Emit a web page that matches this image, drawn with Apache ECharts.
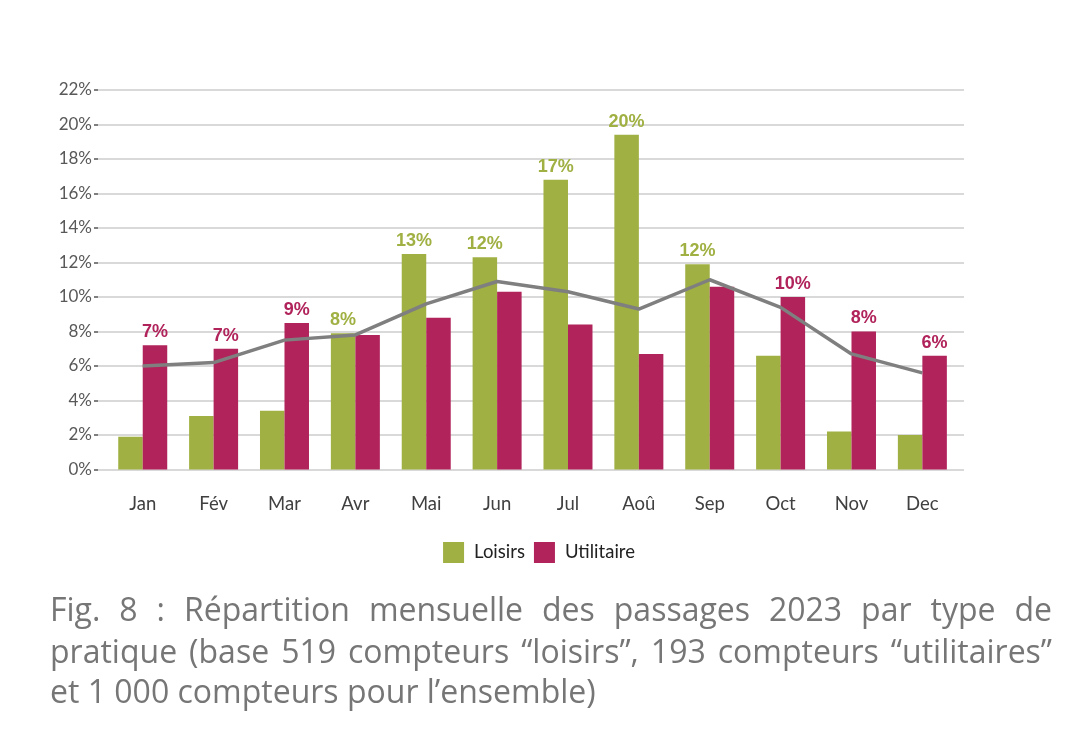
<!DOCTYPE html>
<html>
<head>
<meta charset="utf-8">
<script src="https://cdn.jsdelivr.net/npm/echarts@6/dist/echarts.min.js"></script>
<style>html,body{margin:0;padding:0;background:#fff;}#c{width:1078px;height:729px;}</style>
</head>
<body>
<div id="c"></div>
<script>
const months = ['Jan','Fév','Mar','Avr','Mai','Jun','Jul','Aoû','Sep','Oct','Nov','Dec'];
const loisirs = [1.9, 3.1, 3.4, 7.9, 12.5, 12.3, 16.8, 19.4, 11.9, 6.6, 2.2, 2.0];
const utilitaire = [7.2, 7.0, 8.5, 7.8, 8.8, 10.3, 8.4, 6.7, 10.6, 10.0, 8.0, 6.6];
const ensemble = [6.0, 6.2, 7.5, 7.8, 9.6, 10.9, 10.3, 9.3, 11.0, 9.4, 6.7, 5.6];
const loisirsLabels = ['', '', '', '8%', '13%', '12%', '17%', '20%', '12%', '', '', ''];
const utilitaireLabels = ['7%', '7%', '9%', '', '', '', '', '', '', '10%', '8%', '6%'];
const captionLines = [
  'Fig. 8 : Répartition mensuelle des passages 2023 par type de',
  'pratique (base 519 compteurs “loisirs”, 193 compteurs “utilitaires”',
  'et 1 000 compteurs pour l’ensemble)'
];

const GREEN = '#A0B042', RED = '#B0235B', GRAY = '#7F7F7F';
const chart = echarts.init(document.getElementById('c'), null, {renderer: 'canvas'});

// caption layout (justified lines 1-2)
const capFont = '400 32px "Open Sans"';
const capLeft = 50, capRight = 1052, capMid = [612, 654, 694];
const mctx = document.createElement('canvas').getContext('2d');
mctx.font = capFont;
const graphics = [];
captionLines.forEach((line, li) => {
  const words = line.split(' ');
  const justify = li < captionLines.length - 1;
  const widths = words.map(w => mctx.measureText(w).width);
  const total = widths.reduce((a, b) => a + b, 0);
  const gap = justify ? (capRight - capLeft - total) / (words.length - 1) : mctx.measureText(' ').width;
  let x = capLeft;
  words.forEach((w, i) => {
    graphics.push({type: 'text', x: x, y: capMid[li],
      style: {text: w, font: capFont, fill: '#767676', verticalAlign: 'middle', align: 'left'}});
    x += widths[i] + gap;
  });
});

chart.setOption({
  animation: false,
  textStyle: {fontFamily: 'Lato'},
  grid: [
    {left: 98, right: 114, top: 90, bottom: 259.5},
    {left: 107.3, width: 850.5, top: 90, bottom: 259.5}
  ],
  legend: {
    data: ['Loisirs', 'Utilitaire'],
    top: 537, left: 'center', itemWidth: 21, itemHeight: 21, itemGap: 9,
    icon: 'rect',
    textStyle: {fontFamily: 'Lato', fontSize: 18.5, color: '#222', padding: [0, 0, 0, 5]}
  },
  xAxis: [
    {gridIndex: 0, type: 'value', show: false, min: 0, max: 1},
    {gridIndex: 1, type: 'category', data: months,
      axisLine: {show: false}, axisTick: {show: false},
      axisLabel: {color: '#404040', fontSize: 18.5, margin: 25, fontFamily: 'Lato'}}
  ],
  yAxis: [
    {gridIndex: 0, type: 'value', min: 0, max: 22, interval: 2,
      axisLine: {show: false},
      axisTick: {show: true, length: 4, lineStyle: {color: '#555', width: 1.5}},
      axisLabel: {formatter: '{value}%', color: '#595959', fontSize: 17, margin: 6, fontFamily: 'Lato'},
      splitLine: {lineStyle: {color: '#d9d9d9', width: 2}}},
    {gridIndex: 1, type: 'value', min: 0, max: 22, interval: 2, show: false,
      splitLine: {show: false}}
  ],
  series: [
    {name: 'Loisirs', type: 'bar', xAxisIndex: 1, yAxisIndex: 1, data: loisirs,
      barWidth: 24.5, barGap: '0%', itemStyle: {color: GREEN},
      label: {show: true, position: 'top', distance: 4, color: GREEN, fontSize: 18,
        fontWeight: 'bold', fontFamily: 'Liberation Sans',
        formatter: p => loisirsLabels[p.dataIndex]}},
    {name: 'Utilitaire', type: 'bar', xAxisIndex: 1, yAxisIndex: 1, data: utilitaire,
      barWidth: 24.5, barGap: '0%', itemStyle: {color: RED},
      label: {show: true, position: 'top', distance: 4, color: RED, fontSize: 18,
        fontWeight: 'bold', fontFamily: 'Liberation Sans',
        formatter: p => utilitaireLabels[p.dataIndex]}},
    {name: 'Ensemble', type: 'line', xAxisIndex: 1, yAxisIndex: 1, data: ensemble,
      showSymbol: false, symbol: 'none', z: 5,
      lineStyle: {color: GRAY, width: 3.5}, itemStyle: {color: GRAY}}
  ],
  graphic: graphics
});
</script>
</body>
</html>
